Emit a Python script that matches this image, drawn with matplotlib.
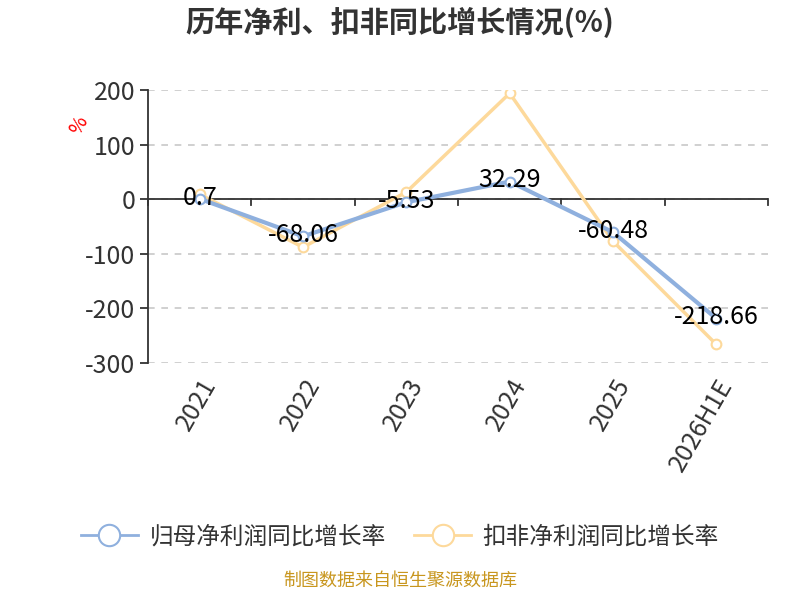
import matplotlib
matplotlib.use("Agg")
import matplotlib.pyplot as plt

plt.rcParams['font.family'] = ['Noto Sans CJK SC', 'DejaVu Sans']
plt.rcParams['axes.unicode_minus'] = False

# 数据
years = ['2021', '2022', '2023', '2024', '2025', '2026H1E']
guimu = [0.7, -68.06, -5.53, 32.29, -60.48, -218.66]
koufei = [9, -88, 13, 194, -77, -266]

blue = '#8fb0de'
orange = '#fdd99b'

fig = plt.figure(figsize=(8, 6), dpi=100)
ax = fig.add_axes([0.185, 0.395, 0.775, 0.455])

x = list(range(len(years)))
ax.plot(x, guimu, color=blue, lw=3, marker='o', ms=7, mfc='white',
        mec=blue, mew=1.5, label='归母净利润同比增长率', zorder=3)
ax.plot(x, koufei, color=orange, lw=2.5, marker='o', ms=7, mfc='white',
        mec=orange, mew=1.5, label='扣非净利润同比增长率', zorder=2)

for i, v in enumerate(guimu):
    ax.text(i, v + 2, f'{v:g}', ha='center', va='center', fontsize=18,
            color='black', zorder=4)

ax.set_xlim(-0.5, len(years) - 0.5)
ax.set_ylim(-300, 200)
ax.set_yticks([-300, -200, -100, 0, 100, 200])
ax.yaxis.grid(True, ls=(0, (4, 4)), color='#c8c8c8', lw=1.2)
ax.set_axisbelow(True)

for s in ['top', 'right', 'bottom']:
    ax.spines[s].set_visible(False)
ax.spines['left'].set_color('#333333')
ax.spines['left'].set_linewidth(1.3)
ax.axhline(0, color='#333333', lw=1.3, zorder=1)

# 零线上的刻度
for b in [i - 0.5 for i in range(len(years) + 1)]:
    ax.plot([b, b], [0, -10], color='#333333', lw=1.3, clip_on=False, zorder=1)

ax.set_xticks(x)
ax.set_xticklabels(years, rotation=60, ha='right', rotation_mode='anchor',
                   fontsize=18, color='#333333')
ax.tick_params(axis='x', length=0, pad=8)
ax.tick_params(axis='y', labelsize=18, labelcolor='#333333', length=6,
               width=1.3, color='#333333', pad=3)

ax.set_ylabel('%', color='red', fontsize=14, rotation=60, labelpad=0)
ax.yaxis.set_label_coords(-0.097, 0.85)

fig.text(0.5, 0.962, '历年净利、扣非同比增长情况(%)', ha='center', va='center',
         fontsize=21, fontweight='bold', color='#333333')

leg = ax.legend(loc='center', bbox_to_anchor=(0.5, 0.105), bbox_transform=fig.transFigure,
                ncol=2, frameon=False, fontsize=17, handlelength=2.4, columnspacing=1.2,
                handletextpad=0.5, markerscale=2.2, labelcolor='#333333')
for h in leg.legend_handles:
    h.set_linewidth(2)

fig.text(0.5, 0.018, '制图数据来自恒生聚源数据库', ha='center', va='bottom',
         fontsize=13, color='#c8961e')

fig.savefig('out.png', dpi=100)
